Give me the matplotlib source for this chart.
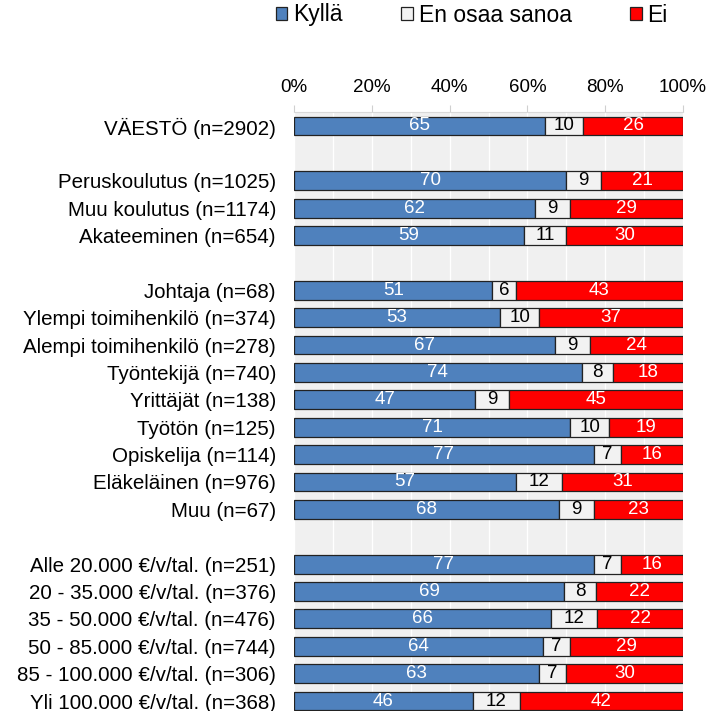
import matplotlib
matplotlib.use("Agg")
import matplotlib.pyplot as plt
import numpy as np
from matplotlib.patches import Patch

plt.rcParams['font.family'] = ['Liberation Sans', 'DejaVu Sans']

categories = ["VÄESTÖ (n=2902)", "",
              "Peruskoulutus (n=1025)", "Muu koulutus (n=1174)", "Akateeminen (n=654)", "",
              "Johtaja (n=68)", "Ylempi toimihenkilö (n=374)", "Alempi toimihenkilö (n=278)",
              "Työntekijä (n=740)", "Yrittäjät (n=138)", "Työtön (n=125)", "Opiskelija (n=114)",
              "Eläkeläinen (n=976)", "Muu (n=67)", "",
              "Alle 20.000 €/v/tal. (n=251)", "20 - 35.000 €/v/tal. (n=376)",
              "35 - 50.000 €/v/tal. (n=476)", "50 - 85.000 €/v/tal. (n=744)",
              "85 - 100.000 €/v/tal. (n=306)", "Yli 100.000 €/v/tal. (n=368)"]
kylla = [64.6, None, 70, 62, 59, None, 51, 53, 67, 74, 46.6, 71, 77, 57, 68, None, 77, 69.4, 66, 64, 63, 46]
en_osaa = [9.8, None, 9, 9, 11, None, 6, 10, 9, 8, 8.6, 10, 7, 12, 9, None, 7, 8.2, 12, 7, 7, 12]
ei = [25.6, None, 21, 29, 30, None, 43, 37, 24, 18, 44.8, 19, 16, 31, 23, None, 16, 22.4, 22, 29, 30, 42]
series_names = ["Kyllä", "En osaa sanoa", "Ei"]
colors = ["#4F81BD", "#F2F2F2", "#FF0000"]
text_colors = ["white", "black", "white"]

fig = plt.figure(figsize=(7.10, 7.11), dpi=100)
ax = fig.add_axes([294/710, -3.7/711, (683-294)/710, (711-112.3+3.7)/711])
ax.set_facecolor("#F0F0F0")

n = len(categories)
y = np.arange(n)
series = [kylla, en_osaa, ei]
left = np.zeros(n)
for vals, c, tc in zip(series, colors, text_colors):
    v = np.array([np.nan if x is None else x for x in vals], dtype=float)
    mask = ~np.isnan(v)
    ax.barh(y[mask], v[mask], left=left[mask], height=0.69, color=c,
            edgecolor="#222222", linewidth=0.9, zorder=3)
    for yi, vi, li in zip(y[mask], v[mask], left[mask]):
        ax.text(li + vi / 2, yi, f"{vi:.0f}", ha="center", va="center",
                color=tc, fontsize=13.5, zorder=4)
    left[mask] += v[mask]

ax.set_ylim(n - 0.5, -0.5)
ax.set_xlim(0, 100)
ax.set_yticks(y)
ax.set_yticklabels(categories, fontsize=14.8)
ax.tick_params(axis='y', length=0, pad=13)
ax.xaxis.tick_top()
ax.set_xticks(np.arange(0, 101, 20))
ax.set_xticklabels([f"{t}%" for t in range(0, 101, 20)], fontsize=13.5)
ax.set_xticks(np.arange(0, 101, 10), minor=True)
ax.tick_params(axis='x', which='major', length=5, color="#D0D0D0", pad=7)
ax.tick_params(axis='x', which='minor', length=0)
ax.grid(axis='x', which='both', color="white", linewidth=1, zorder=0)
ax.set_axisbelow(True)
for s in ["right", "left", "bottom"]:
    ax.spines[s].set_visible(False)
ax.spines["top"].set_color("#D9D9D9")

handles = [Patch(facecolor=c, edgecolor="#222222", linewidth=0.9) for c in colors]
fig.legend(handles, series_names, loc="center left", bbox_to_anchor=(276/710, 1 - 15/711),
           ncol=3, frameon=False, fontsize=16.5, handlelength=0.5, handleheight=0.5,
           handletextpad=0.26, columnspacing=2.55, borderpad=0, borderaxespad=0)

fig.savefig("out.png", dpi=100)
